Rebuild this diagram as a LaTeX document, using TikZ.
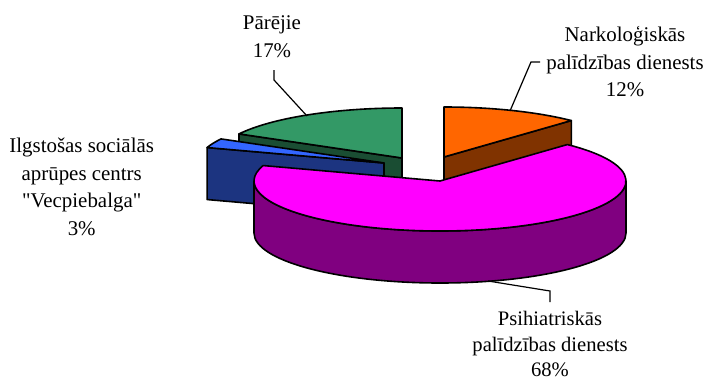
\documentclass[tikz,border=0pt]{standalone}
\usepackage{fontspec}
\setmainfont{Liberation Serif}
\usetikzlibrary{calc}
\definecolor{narkotop}{RGB}{255,102,0}
\definecolor{narkoside}{RGB}{128,51,0}
\definecolor{psihtop}{RGB}{255,0,255}
\definecolor{psihside}{RGB}{128,0,128}
\definecolor{ilgtop}{RGB}{51,102,255}
\definecolor{ilgside}{RGB}{28,52,128}
\definecolor{pareitop}{RGB}{51,153,102}
\definecolor{pareiside}{RGB}{26,77,51}
\begin{document}
\begin{tikzpicture}[x=1pt,y=-1pt,
    sliceface/.style={draw=black,line width=1.6pt,line join=round},
    lbl/.style={align=center,anchor=base,inner sep=0pt,font=\fontsize{20.9}{27.4}\selectfont},
    leader/.style={draw=black,line width=1.2pt}]
  \useasboundingbox (0,0) rectangle (704,383);
  \coordinate (parei) at (402,158);
  \coordinate (ilg) at (384,163);
  \coordinate (narko) at (444,157);
  \coordinate (psih) at (440,181);
  \begin{scope}[x radius=186,y radius=50]
    \draw[sliceface,fill=pareiside] (parei) -- ++({186*cos(151.2)},{-50*sin(151.2)}) -- ++(0,52) -- ($(parei)+(0,52)$) -- cycle;
    \draw[sliceface,fill=pareitop] (parei) -- ++(0,-50) arc[start angle=-90,end angle=-151.2] -- cycle;
    \draw[sliceface,fill=ilgside] (ilg) -- ++({186*cos(162)},{-50*sin(162)}) -- ++(0,52) -- ($(ilg)+(0,52)$) -- cycle;
    \draw[sliceface,fill=ilgtop] (ilg) -- ++({186*cos(151.2)},{-50*sin(151.2)}) arc[start angle=-151.2,end angle=-162] -- cycle;
    \draw[sliceface,fill=narkoside] (narko) -- ++({186*cos(46.8)},{-50*sin(46.8)}) -- ++(0,52) -- ($(narko)+(0,52)$) -- cycle;
    \draw[sliceface,fill=narkotop] (narko) -- ++(0,-50) arc[start angle=-90,end angle=-46.8] -- cycle;
    \draw[sliceface,fill=psihside] ($(psih)+(-186,0)$) arc[start angle=-180,end angle=-360] -- ++(0,52) arc[start angle=0,end angle=180] -- cycle;
    \draw[sliceface,fill=psihtop] (psih) -- ++({186*cos(46.8)},{-50*sin(46.8)}) arc[start angle=-46.8,end angle=198] -- cycle;
  \end{scope}
  \node[lbl] (pareilbl) at (272,57.3) {Pārējie\\17\%};
  \node[lbl] (narkolbl) at (625,96.7) {Narkoloģiskās\\palīdzības dienests\\12\%};
  \node[lbl] (ilglbl) at (81.7,235) {Ilgstošas sociālās\\aprūpes centrs\\\textquotedbl Vecpiebalga\textquotedbl\\3\%};
  \node[lbl,font=\fontsize{20.6}{25.5}\selectfont] (psihlbl) at (550,376.5) {Psihiatriskās\\palīdzības dienests\\68\%};
  \coordinate (pareiend) at (274,70);
  \coordinate (pareibend) at (274,80);
  \coordinate (pareitip) at (307,116);
  \coordinate (narkoend) at (540,62);
  \coordinate (narkobend) at (531,62);
  \coordinate (narkotip) at (510,111);
  \coordinate (psihend) at (550,302);
  \coordinate (psihbend) at (550,291);
  \coordinate (psihtip) at (488,281);
  \draw[leader] (pareitip) -- (pareibend) -- (pareiend);
  \draw[leader] (narkotip) -- (narkobend) -- (narkoend);
  \draw[leader] (psihtip) -- (psihbend) -- (psihend);
\end{tikzpicture}
\end{document}
